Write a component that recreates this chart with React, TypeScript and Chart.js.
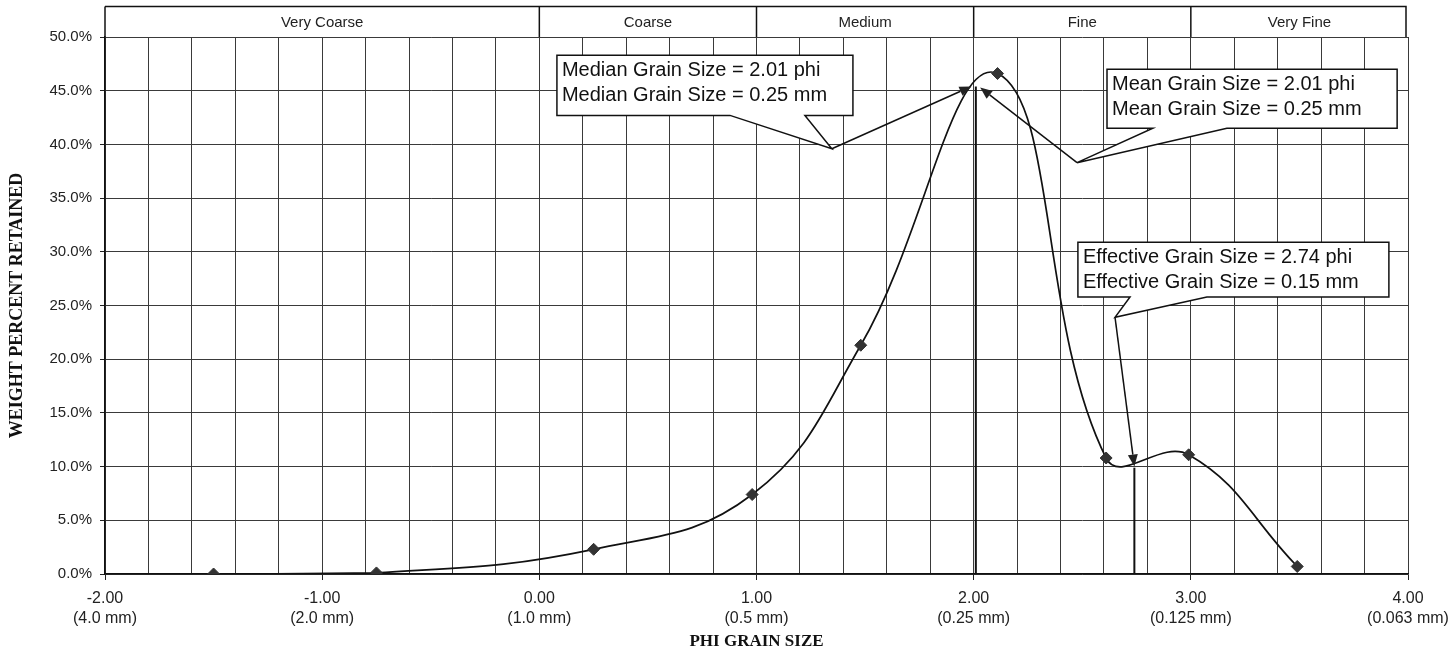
import React, { useEffect, useRef } from "react";
import { Chart, registerables } from "chart.js";

Chart.register(...registerables);

// ---------- data ----------
const phiValues = [-1.5, -0.75, 0.25, 0.98, 1.48, 2.11, 2.61, 2.99, 3.49];
const weightPercent = [0.0, 0.1, 2.3, 7.4, 21.3, 46.6, 10.8, 11.1, 0.7];

const tickPhi = [-2, -1, 0, 1, 2, 3, 4];
const tickMm = ["(4.0 mm)", "(2.0 mm)", "(1.0 mm)", "(0.5 mm)", "(0.25 mm)", "(0.125 mm)", "(0.063 mm)"];

const classNames = ["Very Coarse", "Coarse", "Medium", "Fine", "Very Fine"];
const classBounds = [-2, 0, 1, 2, 3, 4];

const medianPhi = 2.01;
const medianPct = 45.4;
const meanPhi = 2.01;
const meanPct = 45.3;
const effectivePhi = 2.74;
const effectivePct = 9.9;

const medianText = ["Median Grain Size = 2.01 phi", "Median Grain Size = 0.25 mm"];
const meanText = ["Mean Grain Size = 2.01 phi", "Mean Grain Size = 0.25 mm"];
const effectiveText = ["Effective Grain Size = 2.74 phi", "Effective Grain Size = 0.15 mm"];

// ---------- callout layout (data space) ----------
type Callout = {
  lines: string[];
  box: [number, number, number, number]; // xLeft, xRight, yTop, yBottom
  base: [number, number];
  tip: [number, number];
  target: [number, number];
};

const callouts: Callout[] = [
  {
    lines: medianText,
    box: [0.081, 1.444, 48.3, 42.7],
    base: [0.878, 1.223],
    tip: [1.347, 39.6],
    target: [medianPhi - 0.02, medianPct],
  },
  {
    lines: meanText,
    box: [2.614, 3.95, 47.0, 41.5],
    base: [2.825, 3.166],
    tip: [2.476, 38.3],
    target: [meanPhi + 0.02, meanPct],
  },
  {
    lines: effectiveText,
    box: [2.48, 3.912, 30.9, 25.8],
    base: [2.72, 3.074],
    tip: [2.651, 23.9],
    target: [effectivePhi, effectivePct + 0.1],
  },
];

const SANS = "'Liberation Sans', Arial, sans-serif";
const SERIF = "'Liberation Serif', 'Times New Roman', serif";

function drawArrow(ctx: CanvasRenderingContext2D, x1: number, y1: number, x2: number, y2: number) {
  const ang = Math.atan2(y2 - y1, x2 - x1);
  const len = 12;
  const hw = 5;
  const bx = x2 - len * Math.cos(ang);
  const by = y2 - len * Math.sin(ang);
  ctx.beginPath();
  ctx.moveTo(x1, y1);
  ctx.lineTo(bx, by);
  ctx.stroke();
  ctx.beginPath();
  ctx.moveTo(x2, y2);
  ctx.lineTo(bx + hw * Math.sin(ang), by - hw * Math.cos(ang));
  ctx.lineTo(bx - hw * Math.sin(ang), by + hw * Math.cos(ang));
  ctx.closePath();
  ctx.fill();
}

const overlayPlugin = {
  id: "grainOverlay",
  afterDraw(chart: any) {
    const ctx: CanvasRenderingContext2D = chart.ctx;
    const xs = chart.scales.x;
    const ys = chart.scales.y;
    const area = chart.chartArea;
    const X = (v: number) => xs.getPixelForValue(v);
    const Y = (v: number) => ys.getPixelForValue(v);

    ctx.save();
    // class band
    const bandTop = 6.5;
    const bandBottom = area.top;
    const bandRight = X(classBounds[classBounds.length - 1]) - 2;
    ctx.strokeStyle = "#111";
    ctx.lineWidth = 1.5;
    ctx.beginPath();
    ctx.moveTo(X(classBounds[0]), bandTop);
    ctx.lineTo(bandRight, bandTop);
    ctx.lineTo(bandRight, bandBottom);
    ctx.stroke();
    for (let i = 0; i < classBounds.length - 1; i++) {
      const xl = X(classBounds[i]);
      ctx.beginPath();
      ctx.moveTo(xl, bandTop);
      ctx.lineTo(xl, bandBottom);
      ctx.stroke();
    }
    ctx.fillStyle = "#222";
    ctx.font = `15px ${SANS}`;
    ctx.textAlign = "center";
    ctx.textBaseline = "middle";
    for (let i = 0; i < classNames.length; i++) {
      const cx = (X(classBounds[i]) + X(classBounds[i + 1])) / 2;
      ctx.fillText(classNames[i], cx, (bandTop + bandBottom) / 2 + 1);
    }

    // callouts
    for (const c of callouts) {
      const l = X(c.box[0]);
      const r = X(c.box[1]);
      const t = Y(c.box[2]);
      const b = Y(c.box[3]);
      const bl = X(c.base[0]);
      const br = X(c.base[1]);
      const tx = X(c.tip[0]);
      const ty = Y(c.tip[1]);
      ctx.beginPath();
      ctx.moveTo(l, t);
      ctx.lineTo(r, t);
      ctx.lineTo(r, b);
      ctx.lineTo(br, b);
      ctx.lineTo(tx, ty);
      ctx.lineTo(bl, b);
      ctx.lineTo(l, b);
      ctx.closePath();
      ctx.fillStyle = "#fff";
      ctx.fill();
      ctx.strokeStyle = "#111";
      ctx.lineWidth = 1.5;
      ctx.stroke();

      ctx.fillStyle = "#111";
      ctx.font = `20px ${SANS}`;
      ctx.textAlign = "left";
      ctx.textBaseline = "alphabetic";
      ctx.fillText(c.lines[0], l + 5, t + 21);
      ctx.fillText(c.lines[1], l + 5, t + 45.5);

      ctx.strokeStyle = "#111";
      ctx.fillStyle = "#222";
      ctx.lineWidth = 1.5;
      drawArrow(ctx, tx, ty, X(c.target[0]), Y(c.target[1]));
    }
    ctx.restore();
  },
};

const isWhole = (v: number) => Math.abs(v - Math.round(v)) < 1e-6;

export default function App() {
  const canvasRef = useRef<HTMLCanvasElement | null>(null);

  useEffect(() => {
    const canvas = canvasRef.current;
    if (!canvas) return;
    const points = phiValues.map((x, i) => ({ x, y: weightPercent[i] }));

    const chart = new Chart(canvas, {
      type: "line",
      data: {
        datasets: [
          {
            label: "Weight percent retained",
            data: points,
            borderColor: "#111",
            borderWidth: 1.7,
            tension: 0.42,
            pointStyle: "rectRot",
            pointRadius: 6,
            pointBackgroundColor: "#333",
            pointBorderColor: "#333",
            pointBorderWidth: 1,
            order: 1,
          },
          {
            label: "Median",
            data: [
              { x: medianPhi, y: 0 },
              { x: medianPhi, y: medianPct },
            ],
            borderColor: "#111",
            borderWidth: 2,
            pointRadius: 0,
            tension: 0,
            order: 2,
          },
          {
            label: "Effective",
            data: [
              { x: effectivePhi, y: 0 },
              { x: effectivePhi, y: effectivePct },
            ],
            borderColor: "#111",
            borderWidth: 2,
            pointRadius: 0,
            tension: 0,
            order: 2,
          },
        ],
      },
      options: {
        animation: false,
        responsive: false,
        devicePixelRatio: 1,
        layout: { padding: { left: 0, right: 40, top: 37, bottom: 0 } },
        plugins: {
          legend: { display: false },
          tooltip: { enabled: false },
        },
        scales: {
          x: {
            type: "linear",
            min: -2,
            max: 4,
            afterFit: (s: any) => {
              s.height = 80;
              s.paddingLeft = 0;
              s.paddingRight = 0;
            },
            ticks: {
              stepSize: 0.2,
              autoSkip: false,
              maxRotation: 0,
              minRotation: 0,
              padding: 9,
              color: "#222",
              font: { family: SANS, size: 16, lineHeight: 1.25 },
              callback: (v: any) => {
                const n = Number(v);
                if (!isWhole(n)) return "";
                const idx = tickPhi.indexOf(Math.round(n));
                if (idx < 0) return "";
                return [tickPhi[idx].toFixed(2), tickMm[idx]];
              },
            },
            grid: {
              color: "#3a3a3a",
              lineWidth: 1,
              tickLength: 6,
              tickColor: (ctx: any) => (ctx.tick && isWhole(ctx.tick.value) ? "#222" : "rgba(0,0,0,0)"),
            },
            border: { color: "#111", width: 1.5 },
            title: {
              display: true,
              text: "PHI GRAIN SIZE",
              color: "#111",
              font: { family: SERIF, size: 17, weight: "bold" },
              padding: { top: 0, bottom: 2 },
            },
          },
          y: {
            type: "linear",
            min: 0,
            max: 50,
            afterFit: (s: any) => {
              s.width = 105;
            },
            ticks: {
              stepSize: 5,
              padding: 8,
              color: "#222",
              font: { family: SANS, size: 15 },
              callback: (v: any) => Number(v).toFixed(1) + "%",
            },
            grid: {
              color: "#3a3a3a",
              lineWidth: 1,
              tickLength: 5,
              tickColor: "#222",
            },
            border: { color: "#111", width: 1.5 },
            title: {
              display: true,
              text: "WEIGHT PERCENT RETAINED",
              color: "#111",
              font: { family: SERIF, size: 18, weight: "bold" },
              padding: { top: 7, bottom: 0 },
            },
          },
        },
      },
      plugins: [overlayPlugin],
    });

    return () => chart.destroy();
  }, []);

  return (
    <div style={{ position: "fixed", left: 0, top: 0, width: 1448, height: 654, background: "#fff" }}>
      <canvas ref={canvasRef} width={1448} height={654} style={{ width: 1448, height: 654, display: "block" }} />
    </div>
  );
}
